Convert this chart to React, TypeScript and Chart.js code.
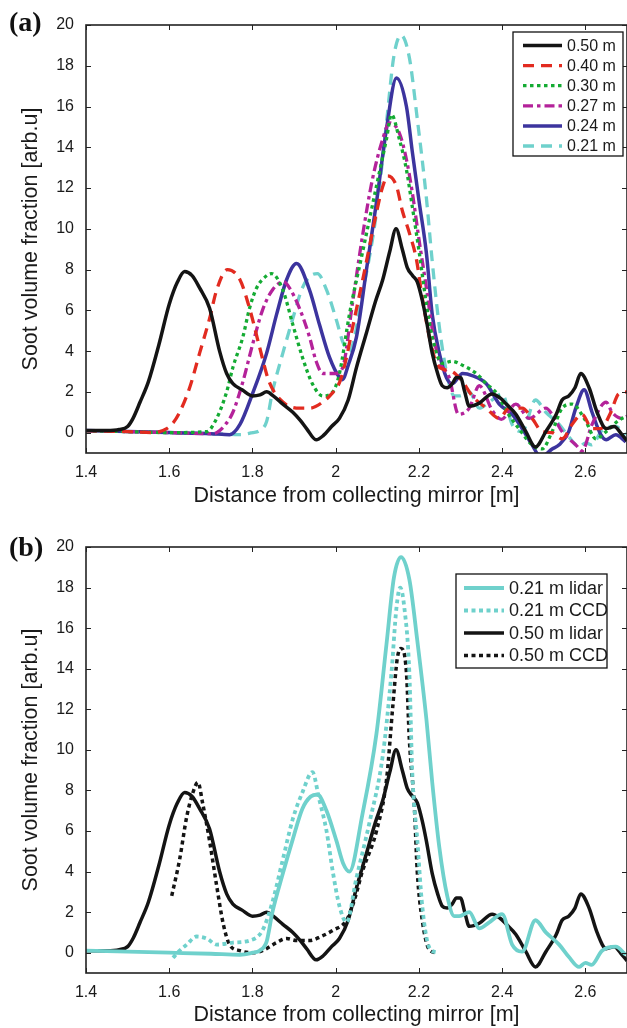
import React, { useEffect, useRef } from "react";
import { Chart, registerables } from "chart.js";
Chart.register(...registerables);

// ---------- axis ticks ----------
const X_TICKS = [1.4, 1.6, 1.8, 2.0, 2.2, 2.4, 2.6];
const Y_TICKS = [0, 2, 4, 6, 8, 10, 12, 14, 16, 18, 20];
const X_MIN = 1.4;
const X_MAX = 2.7;
const Y_MIN = -1;
const Y_MAX = 20;

const X_TITLE = "Distance from collecting mirror [m]";
const Y_TITLE = "Soot volume fraction [arb.u]";

// ---------- panel (a) series ----------
const LABELS_A = ["0.50 m", "0.40 m", "0.30 m", "0.27 m", "0.24 m", "0.21 m"];

const X_050 = [1.4, 1.45, 1.48, 1.5, 1.513, 1.53, 1.55, 1.575, 1.6, 1.62, 1.637, 1.655, 1.673, 1.697, 1.721, 1.738, 1.753, 1.775, 1.8, 1.818, 1.834, 1.85, 1.873, 1.897, 1.915, 1.93, 1.953, 1.97, 1.99, 2.009, 2.03, 2.05, 2.074, 2.095, 2.113, 2.13, 2.145, 2.16, 2.172, 2.185, 2.196, 2.208, 2.218, 2.232, 2.245, 2.256, 2.268, 2.28, 2.29, 2.3, 2.31, 2.321, 2.345, 2.376, 2.395, 2.41, 2.433, 2.457, 2.48, 2.505, 2.53, 2.544, 2.56, 2.575, 2.589, 2.609, 2.628, 2.65, 2.669, 2.688, 2.7];
const Y_050 = [0.1, 0.1, 0.15, 0.3, 0.7, 1.5, 2.5, 4.3, 6.3, 7.4, 7.9, 7.7, 7.1, 6.1, 4.0, 2.9, 2.4, 2.1, 1.8, 1.85, 2.0, 1.8, 1.4, 1.0, 0.6, 0.2, -0.35, -0.15, 0.3, 0.7, 1.6, 3.2, 4.9, 6.4, 7.5, 8.9, 10.0, 9.0, 8.1, 7.7, 7.4, 6.5, 5.5, 3.9, 2.9, 2.3, 2.2, 2.4, 2.7, 2.7, 2.0, 1.3, 1.45, 1.9, 1.7, 1.4, 0.9, 0.05, -0.7, 0.05, 0.9, 1.6, 1.8, 2.2, 2.9, 2.2, 1.0, 0.2, 0.3, -0.1, -0.4];

const X_040 = [1.4, 1.5, 1.56, 1.594, 1.61, 1.625, 1.649, 1.673, 1.697, 1.714, 1.74, 1.77, 1.793, 1.817, 1.84, 1.873, 1.913, 1.937, 1.969, 1.99, 2.01, 2.026, 2.04, 2.07, 2.098, 2.112, 2.125, 2.146, 2.16, 2.177, 2.194, 2.208, 2.225, 2.242, 2.26, 2.28, 2.305, 2.328, 2.362, 2.393, 2.417, 2.448, 2.472, 2.496, 2.52, 2.544, 2.568, 2.592, 2.616, 2.637, 2.66, 2.68, 2.7];
const Y_040 = [0.1, 0.05, 0.0, 0.2, 0.5, 1.0, 2.2, 3.9, 5.6, 7.0, 8.0, 7.5, 6.1, 4.2, 2.5, 1.5, 1.2, 1.2, 1.5, 1.9, 2.5, 3.7, 5.1, 8.0, 10.8, 12.0, 12.6, 12.1, 10.9, 9.8, 8.5, 6.6, 4.7, 3.4, 3.1, 3.0, 2.5, 1.8, 1.2, 0.7, 1.2, 1.2, 0.7, 0.05, 0.0, -0.3, 0.4, 0.9, 0.2, 0.2, 0.95, 1.9, 2.0];

const X_030 = [1.4, 1.5, 1.6, 1.69, 1.714, 1.738, 1.753, 1.777, 1.793, 1.81, 1.834, 1.846, 1.873, 1.897, 1.92, 1.944, 1.969, 1.993, 2.009, 2.033, 2.064, 2.098, 2.122, 2.134, 2.153, 2.17, 2.184, 2.201, 2.218, 2.232, 2.256, 2.28, 2.305, 2.338, 2.362, 2.388, 2.412, 2.44, 2.472, 2.496, 2.52, 2.544, 2.568, 2.6, 2.625, 2.65, 2.68, 2.7];
const Y_030 = [0.1, 0.05, 0.0, 0.05, 0.7, 2.0, 3.2, 4.7, 6.1, 7.1, 7.7, 7.8, 7.0, 5.3, 3.7, 2.4, 1.8, 2.0, 2.9, 5.8, 8.8, 12.1, 14.4, 15.6, 14.4, 12.9, 11.1, 8.8, 6.3, 4.7, 3.4, 3.5, 3.3, 2.9, 2.4, 1.9, 1.0, 0.2, -0.6, -0.8, 0.05, 1.2, 1.4, 0.6, -0.3, 0.05, 0.6, 0.8];

const X_027 = [1.4, 1.5, 1.6, 1.7, 1.714, 1.735, 1.753, 1.777, 1.8, 1.824, 1.848, 1.875, 1.889, 1.913, 1.937, 1.953, 1.969, 2.0, 2.017, 2.04, 2.064, 2.088, 2.113, 2.129, 2.153, 2.17, 2.184, 2.2, 2.218, 2.232, 2.249, 2.273, 2.295, 2.321, 2.345, 2.376, 2.398, 2.433, 2.465, 2.505, 2.52, 2.544, 2.577, 2.592, 2.616, 2.65, 2.664, 2.688, 2.7];
const Y_027 = [0.1, 0.05, 0.0, -0.05, 0.0, 0.4, 1.0, 2.5, 4.3, 6.0, 7.0, 7.4, 7.1, 6.1, 4.7, 3.5, 2.9, 2.9, 3.2, 6.3, 9.6, 12.4, 14.4, 15.2, 14.7, 13.4, 11.8, 9.5, 7.1, 5.1, 3.5, 2.7, 0.9, 1.2, 2.3, 1.1, 0.65, 1.4, 0.7, 1.2, 0.9, 0.05, -0.6, -0.9, 0.4, 1.5, 1.0, 0.7, 0.8];

const X_024 = [1.4, 1.5, 1.6, 1.7, 1.745, 1.77, 1.8, 1.834, 1.858, 1.882, 1.906, 1.937, 1.961, 1.985, 2.009, 2.016, 2.03, 2.05, 2.074, 2.098, 2.122, 2.146, 2.17, 2.184, 2.2, 2.218, 2.232, 2.249, 2.266, 2.28, 2.305, 2.328, 2.362, 2.393, 2.424, 2.448, 2.472, 2.489, 2.5, 2.52, 2.537, 2.56, 2.577, 2.597, 2.616, 2.637, 2.65, 2.673, 2.697];
const Y_024 = [0.1, 0.05, 0.0, -0.05, -0.1, 0.4, 1.9, 3.9, 5.8, 7.5, 8.3, 7.0, 5.3, 3.7, 2.7, 2.6, 3.3, 4.7, 8.0, 11.3, 14.9, 17.4, 16.0, 13.8, 11.4, 8.8, 5.8, 3.9, 2.7, 2.4, 2.9, 2.8, 2.4, 1.4, 0.9, 0.2, -0.6, -1.1, -1.1, -0.8, -0.6, 0.05, 1.2, 2.1, 1.0, -0.1, -0.35, -0.1, -0.45];

const X_021 = [1.4, 1.5, 1.6, 1.7, 1.77, 1.8, 1.817, 1.834, 1.848, 1.873, 1.897, 1.92, 1.94, 1.956, 1.978, 2.002, 2.018, 2.033, 2.064, 2.098, 2.122, 2.14, 2.157, 2.177, 2.196, 2.218, 2.232, 2.249, 2.268, 2.285, 2.297, 2.321, 2.345, 2.369, 2.4, 2.424, 2.448, 2.48, 2.505, 2.537, 2.56, 2.585, 2.6, 2.615, 2.64, 2.673, 2.697];
const Y_021 = [0.1, 0.05, 0.0, -0.05, -0.1, 0.0, 0.1, 0.55, 2.0, 3.9, 5.6, 7.1, 7.7, 7.8, 7.0, 5.5, 4.4, 4.0, 6.8, 10.8, 15.2, 18.5, 19.5, 18.4, 15.4, 11.5, 8.4, 5.2, 2.8, 1.8, 1.8, 2.0, 1.2, 1.5, 1.9, 0.4, 0.05, 1.6, 1.0, 0.4, -0.2, -0.7, -0.5, -0.6, 0.1, 0.3, -0.1];

// ---------- panel (b) series ----------
const LABELS_B = ["0.21 m lidar", "0.21 m CCD", "0.50 m lidar", "0.50 m CCD"];

const X_021_CCD = [1.609, 1.625, 1.642, 1.666, 1.69, 1.714, 1.753, 1.793, 1.824, 1.848, 1.873, 1.897, 1.92, 1.944, 1.96, 1.978, 1.993, 2.009, 2.026, 2.05, 2.081, 2.113, 2.134, 2.146, 2.155, 2.165, 2.177, 2.184, 2.196, 2.208, 2.225, 2.245];
const Y_021_CCD = [-0.25, 0.1, 0.4, 0.8, 0.7, 0.4, 0.5, 0.6, 1.1, 2.5, 4.6, 6.6, 7.9, 8.9, 7.6, 6.0, 4.0, 2.3, 1.5, 3.7, 6.4, 9.7, 13.8, 17.0, 18.0, 17.0, 13.8, 8.9, 5.6, 2.3, 0.25, 0.0];

const X_050_CCD = [1.606, 1.625, 1.642, 1.657, 1.669, 1.68, 1.697, 1.714, 1.73, 1.745, 1.77, 1.8, 1.824, 1.858, 1.882, 1.906, 1.937, 1.965, 1.993, 2.026, 2.045, 2.064, 2.098, 2.122, 2.137, 2.148, 2.157, 2.17, 2.177, 2.189, 2.196, 2.208, 2.225, 2.242];
const Y_050_CCD = [2.8, 4.6, 6.7, 7.9, 8.4, 7.4, 5.5, 3.3, 1.4, 0.4, 0.1, 0.0, 0.1, 0.5, 0.7, 0.6, 0.6, 0.8, 1.1, 1.6, 2.6, 4.0, 6.0, 8.5, 12.1, 14.5, 15.0, 13.8, 10.5, 7.2, 4.0, 1.6, 0.15, 0.0];

// ---------- helpers ----------
const pts = (xs: number[], ys: number[]) => xs.map((x, i) => ({ x, y: ys[i] }));

const FONT = "'Liberation Sans', Arial, Helvetica, sans-serif";
const INK = "#1a1a1a";

const frameTicks = {
  id: "frameTicks",
  afterDatasetsDraw(chart: any) {
    const { ctx, chartArea: a, scales } = chart;
    const xs = scales.x;
    const ys = scales.y;
    ctx.save();
    ctx.strokeStyle = "#222";
    ctx.lineWidth = 1.6;
    ctx.strokeRect(a.left, a.top, a.right - a.left, a.bottom - a.top);
    ctx.lineWidth = 1;
    const L = 5;
    ctx.beginPath();
    X_TICKS.forEach((v) => {
      const px = Math.round(xs.getPixelForValue(v)) + 0.5;
      ctx.moveTo(px, a.bottom);
      ctx.lineTo(px, a.bottom - L);
      ctx.moveTo(px, a.top);
      ctx.lineTo(px, a.top + L);
    });
    Y_TICKS.forEach((v) => {
      const py = Math.round(ys.getPixelForValue(v)) + 0.5;
      ctx.moveTo(a.left, py);
      ctx.lineTo(a.left + L, py);
      ctx.moveTo(a.right, py);
      ctx.lineTo(a.right - L, py);
    });
    ctx.stroke();
    ctx.restore();
  },
};

const boxLegend = {
  id: "boxLegend",
  afterDraw(chart: any, _args: any, o: any) {
    if (!o || !o.box) return;
    const { ctx } = chart;
    const [bx0, by0, bx1, by1] = o.box;
    ctx.save();
    ctx.fillStyle = "#fff";
    ctx.fillRect(bx0, by0, bx1 - bx0, by1 - by0);
    ctx.strokeStyle = "#111";
    ctx.lineWidth = 1.3;
    ctx.strokeRect(bx0, by0, bx1 - bx0, by1 - by0);
    ctx.font = `${o.fontSize}px ${FONT}`;
    ctx.textBaseline = "middle";
    ctx.textAlign = "left";
    chart.data.datasets.forEach((ds: any, i: number) => {
      const y = o.row0 + i * o.rowH;
      ctx.save();
      ctx.strokeStyle = ds.borderColor;
      ctx.lineWidth = ds.borderWidth;
      ctx.setLineDash(ds.borderDash || []);
      ctx.lineCap = "butt";
      ctx.beginPath();
      ctx.moveTo(o.s0, y);
      ctx.lineTo(o.s1, y);
      ctx.stroke();
      ctx.restore();
      ctx.fillStyle = INK;
      ctx.fillText(ds.label, o.tx, y + 1);
    });
    ctx.restore();
  },
};

type PanelProps = {
  datasets: any[];
  top: number;
  height: number;
  padTop: number;
  xScaleHeight: number;
  xTitlePadBottom: number;
  legend: any;
  tag: string;
  tagTop: number;
};

function Panel(p: PanelProps) {
  const ref = useRef<HTMLCanvasElement | null>(null);
  useEffect(() => {
    if (!ref.current) return;
    const chart = new Chart(ref.current, {
      type: "line",
      data: { datasets: p.datasets },
      plugins: [frameTicks, boxLegend],
      options: {
        animation: false,
        responsive: false,
        maintainAspectRatio: false,
        parsing: false as any,
        layout: { padding: { top: p.padTop, right: 0, bottom: 0, left: 0 } },
        elements: { point: { radius: 0 } },
        plugins: {
          legend: { display: false },
          tooltip: { enabled: false },
          boxLegend: p.legend,
        } as any,
        scales: {
          x: {
            type: "linear",
            min: X_MIN,
            max: X_MAX,
            grid: { display: false, drawTicks: false },
            border: { display: false },
            afterBuildTicks: (s: any) => {
              s.ticks = X_TICKS.map((v) => ({ value: v }));
            },
            afterFit: (s: any) => {
              s.height = p.xScaleHeight;
            },
            ticks: {
              autoSkip: false,
              maxRotation: 0,
              padding: 10,
              color: INK,
              font: { family: FONT, size: 16 },
              callback: (v: any) => String(v),
            },
            title: {
              display: true,
              text: X_TITLE,
              color: INK,
              font: { family: FONT, size: 21.5 },
              padding: { top: 0, bottom: p.xTitlePadBottom },
            },
          },
          y: {
            type: "linear",
            min: Y_MIN,
            max: Y_MAX,
            grid: { display: false, drawTicks: false },
            border: { display: false },
            afterBuildTicks: (s: any) => {
              s.ticks = Y_TICKS.map((v) => ({ value: v }));
            },
            afterFit: (s: any) => {
              s.width = 86;
            },
            ticks: {
              autoSkip: false,
              padding: 12,
              color: INK,
              font: { family: FONT, size: 16 },
              callback: (v: any) => String(v),
            },
            title: {
              display: true,
              text: Y_TITLE,
              color: INK,
              font: { family: FONT, size: 21.5 },
              padding: { top: 18, bottom: 0 },
            },
          },
        },
      },
    });
    return () => chart.destroy();
  }, []);
  return (
    <div style={{ position: "absolute", left: 0, top: p.top, width: 627, height: p.height }}>
      <canvas ref={ref} width={627} height={p.height} style={{ display: "block", width: 627, height: p.height }} />
      <div
        style={{
          position: "absolute",
          left: 9,
          top: p.tagTop,
          font: `bold 28px 'Liberation Serif', 'Times New Roman', serif`,
          lineHeight: "28px",
          color: "#111",
        }}
      >
        {p.tag}
      </div>
    </div>
  );
}

const line = (label: string, xs: number[], ys: number[], color: string, width: number, dash: number[]) => ({
  label,
  data: pts(xs, ys),
  borderColor: color,
  backgroundColor: color,
  borderWidth: width,
  borderDash: dash,
  borderCapStyle: "butt",
  borderJoinStyle: "round",
  cubicInterpolationMode: "monotone",
  fill: false,
  pointRadius: 0,
  clip: 0,
});

const BLACK = "#141414";
const RED = "#e22b20";
const GREEN = "#14ab33";
const MAGENTA = "#b4229a";
const BLUE = "#3c349e";
const CYAN = "#6fd1cc";

export default function App() {
  const dsA = [
    line(LABELS_A[0], X_050, Y_050, BLACK, 3.5, []),
    line(LABELS_A[1], X_040, Y_040, RED, 3.3, [11, 7]),
    line(LABELS_A[2], X_030, Y_030, GREEN, 3.3, [3.5, 3.5]),
    line(LABELS_A[3], X_027, Y_027, MAGENTA, 3.3, [10, 4, 3.5, 4]),
    line(LABELS_A[4], X_024, Y_024, BLUE, 3.5, []),
    line(LABELS_A[5], X_021, Y_021, CYAN, 3.3, [11, 7]),
  ];
  const dsB = [
    line(LABELS_B[0], X_021, Y_021, CYAN, 3.8, []),
    line(LABELS_B[1], X_021_CCD, Y_021_CCD, CYAN, 3.8, [4, 3.5]),
    line(LABELS_B[2], X_050, Y_050, BLACK, 3.5, []),
    line(LABELS_B[3], X_050_CCD, Y_050_CCD, BLACK, 3.5, [4, 3.5]),
  ];
  return (
    <div style={{ position: "absolute", left: 0, top: 0, width: 627, height: 1028, background: "#fff" }}>
      <Panel
        datasets={dsA}
        top={0}
        height={520}
        padTop={25}
        xScaleHeight={67}
        xTitlePadBottom={11}
        tag="(a)"
        tagTop={8}
        legend={{ box: [513, 32, 623, 156], row0: 45.5, rowH: 20.1, s0: 523, s1: 562, tx: 567, fontSize: 16 }}
      />
      <Panel
        datasets={dsB}
        top={520}
        height={508}
        padTop={27}
        xScaleHeight={55}
        xTitlePadBottom={0}
        tag="(b)"
        tagTop={13}
        legend={{ box: [456, 54, 607, 148], row0: 68, rowH: 22.5, s0: 464, s1: 504, tx: 509, fontSize: 18 }}
      />
    </div>
  );
}
